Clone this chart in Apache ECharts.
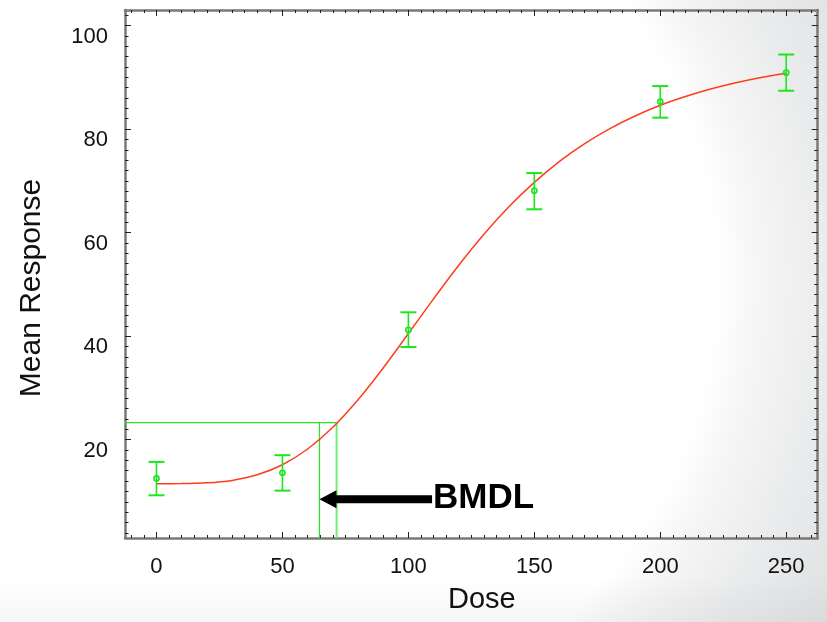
<!DOCTYPE html>
<html>
<head>
<meta charset="utf-8">
<style>
  html, body { margin: 0; padding: 0; }
  #chart { width: 827px; height: 622px; }
</style>
<script src="https://cdn.jsdelivr.net/npm/echarts@6/dist/echarts.min.js"></script>
</head>
<body>
<div id="chart"></div>
<script>
const doses = [0, 50, 100, 150, 200, 250];
const means = [12.5, 13.6, 41.2, 68.1, 85.3, 90.9];
const lowerBars = [9.25, 10.15, 37.9, 64.5, 82.2, 87.4];
const upperBars = [15.7, 17.0, 44.6, 71.5, 88.3, 94.4];

// ---- Fitted curve ----
const curveDose = [0, 10, 20, 30, 40, 50, 60, 70, 80, 90, 100, 110, 120, 130, 140, 150, 160, 170, 180, 190, 200, 210, 220, 230, 240, 250];
const curveResp = [11.5, 11.51, 11.65, 12.13, 13.21, 15.15, 18.19, 22.39, 27.7, 33.85, 40.5, 47.2, 53.7, 59.7, 65.05, 69.7, 73.77, 77.2, 80.1, 82.53, 84.6, 86.29, 87.74, 88.95, 89.97, 90.8];

// ---- Benchmark values ----
const bmrLevel = 23.3;
const bmdValue = 71.5;
const bmdlValue = 64.7;
const arrowTail = [109.4, 8.5];
const arrowTip = [64.7, 8.5];
const arrowText = 'BMDL';

// ---- Axis ranges and ticks ----
const xRange = [-12.5, 262.5];
const yRange = [1, 103];
const xMajorTicks = [0, 50, 100, 150, 200, 250];
const xMinorTicks = [-10, -5, 5, 10, 15, 20, 25, 30, 35, 40, 45, 55, 60, 65, 70, 75, 80, 85, 90, 95, 105, 110, 115, 120, 125, 130, 135, 140, 145, 155, 160, 165, 170, 175, 180, 185, 190, 195, 205, 210, 215, 220, 225, 230, 235, 240, 245, 255, 260];
const yMajorTicks = [20, 40, 60, 80, 100];
const yMinorTicks = [2, 4, 6, 8, 10, 12, 14, 16, 18, 22, 24, 26, 28, 30, 32, 34, 36, 38, 42, 44, 46, 48, 50, 52, 54, 56, 58, 62, 64, 66, 68, 70, 72, 74, 76, 78, 82, 84, 86, 88, 90, 92, 94, 96, 98, 102];

const GREEN = '#1ee61e';
const AXIS_GRAY = '#7a7a7a';
const TICK = '#222';
const FONT = '"Liberation Sans", Arial, sans-serif';
const GRID_RECT = { left: 125, top: 10, width: 692.7, height: 528, containLabel: false };

function axis(pos, range, gridIndex, showLine, ticks, tickLen, extra) {
  return Object.assign({
    type: 'value',
    gridIndex: gridIndex,
    position: pos,
    min: range[0],
    max: range[1],
    splitLine: { show: false },
    axisLine: { show: showLine, onZero: false, lineStyle: { color: AXIS_GRAY, width: 2.5 } },
    axisLabel: { show: false },
    axisTick: { show: true, inside: true, length: tickLen, customValues: ticks, lineStyle: { color: TICK, width: 1 } },
    silent: true
  }, extra || {});
}

const xAxes = [
  axis('bottom', xRange, 0, true, xMajorTicks, 6, {
    name: 'Dose',
    nameLocation: 'middle',
    nameGap: 47,
    nameTextStyle: { fontSize: 29, color: '#111', fontFamily: FONT, padding: [0, 0, 0, 21] },
    axisLabel: { show: true, customValues: xMajorTicks, fontSize: 22, color: '#111', fontFamily: FONT, margin: 18 }
  }),
  axis('top', xRange, 0, true, xMajorTicks, 6),
  axis('bottom', xRange, 1, false, xMinorTicks, 3),
  axis('top', xRange, 1, false, xMinorTicks, 3)
];

const yAxes = [
  axis('left', yRange, 0, true, yMajorTicks, 6, {
    name: 'Mean Response',
    nameLocation: 'middle',
    nameGap: 78,
    nameTextStyle: { fontSize: 30, color: '#111', fontFamily: FONT, padding: [0, 28, 0, 0] },
    axisLabel: { show: true, customValues: yMajorTicks, fontSize: 22, color: '#111', fontFamily: FONT, margin: 17, verticalAlign: 'top' }
  }),
  axis('right', yRange, 0, true, yMajorTicks, 6),
  axis('left', yRange, 1, false, yMinorTicks, 3.5),
  axis('right', yRange, 1, false, yMinorTicks, 3.5)
];

const errData = doses.map((d, i) => [d, means[i], lowerBars[i], upperBars[i]]);
const curveData = curveDose.map((d, i) => [d, curveResp[i]]);

const chart = echarts.init(document.getElementById('chart'), null, { renderer: 'canvas' });

chart.setOption({
  animation: false,
  backgroundColor: {
    type: 'radial', x: 260, y: 280, r: 660, global: true,
    colorStops: [
      { offset: 0, color: '#ffffff' },
      { offset: 0.69, color: '#ffffff' },
      { offset: 0.75, color: '#f6f6f6' },
      { offset: 0.87, color: '#e9eaeb' },
      { offset: 1, color: '#e0e1e2' }
    ]
  },
  graphic: [{
    type: 'rect', silent: true, z: -10,
    shape: { x: 0, y: 578, width: 827, height: 44 },
    style: {
      fill: {
        type: 'linear', x: 0, y: 0, x2: 0, y2: 1,
        colorStops: [
          { offset: 0, color: 'rgba(0,0,0,0)' },
          { offset: 0.5, color: 'rgba(0,0,0,0.02)' },
          { offset: 1, color: 'rgba(0,0,0,0.03)' }
        ]
      }
    }
  }],
  grid: [GRID_RECT, GRID_RECT],
  xAxis: xAxes,
  yAxis: yAxes,
  series: [
    {
      name: 'BMR level',
      type: 'line',
      data: [[xRange[0], bmrLevel], [bmdValue, bmrLevel]],
      showSymbol: false,
      lineStyle: { color: '#2ee02e', width: 1.3 },
      silent: true
    },
    {
      name: 'BMDL',
      type: 'line',
      data: [[bmdlValue, yRange[0]], [bmdlValue, bmrLevel]],
      showSymbol: false,
      lineStyle: { color: '#2ee02e', width: 1.3 },
      silent: true
    },
    {
      name: 'BMD',
      type: 'line',
      data: [[bmdValue, yRange[0]], [bmdValue, bmrLevel]],
      showSymbol: false,
      lineStyle: { color: '#6fee6f', width: 2 },
      silent: true
    },
    {
      name: 'Fit',
      type: 'line',
      data: curveData,
      smooth: 0.3,
      showSymbol: false,
      lineStyle: { color: '#ff3c1e', width: 1.5 },
      silent: true,
      z: 3
    },
    {
      name: 'Observed',
      type: 'custom',
      data: errData,
      encode: { x: 0, y: [1, 2, 3] },
      z: 4,
      renderItem: function (params, api) {
        const x = api.value(0);
        const pM = api.coord([x, api.value(1)]);
        const pL = api.coord([x, api.value(2)]);
        const pH = api.coord([x, api.value(3)]);
        const hw = 8;
        return {
          type: 'group',
          children: [
            { type: 'line', shape: { x1: pL[0], y1: pL[1], x2: pH[0], y2: pH[1] }, style: { stroke: GREEN, lineWidth: 1.6 } },
            { type: 'line', shape: { x1: pL[0] - hw, y1: pL[1], x2: pL[0] + hw, y2: pL[1] }, style: { stroke: GREEN, lineWidth: 2 } },
            { type: 'line', shape: { x1: pH[0] - hw, y1: pH[1], x2: pH[0] + hw, y2: pH[1] }, style: { stroke: GREEN, lineWidth: 2 } },
            { type: 'circle', shape: { cx: pM[0], cy: pM[1], r: 2.6 }, style: { fill: 'rgba(0,0,0,0)', stroke: GREEN, lineWidth: 1.6 } }
          ]
        };
      }
    },
    {
      name: 'Arrow',
      type: 'custom',
      data: [[arrowTail[0], arrowTail[1], arrowTip[0], arrowTip[1]]],
      encode: { x: [0, 2], y: [1, 3] },
      z: 5,
      renderItem: function (params, api) {
        const pT = api.coord([api.value(0), api.value(1)]);
        const pH = api.coord([api.value(2), api.value(3)]);
        const headLen = 17, headHalf = 9, shaftHalf = 4;
        return {
          type: 'group',
          children: [
            { type: 'rect', shape: { x: pH[0] + headLen - 1, y: pT[1] - shaftHalf, width: pT[0] - pH[0] - headLen + 1, height: shaftHalf * 2 }, style: { fill: '#000' } },
            { type: 'polygon', shape: { points: [[pH[0], pH[1]], [pH[0] + headLen, pH[1] - headHalf], [pH[0] + headLen, pH[1] + headHalf]] }, style: { fill: '#000' } },
            { type: 'text', x: pT[0] + 1, y: pT[1] - 1, style: { text: arrowText, fill: '#000', font: 'bold 35px "Liberation Sans", Arial, sans-serif', align: 'left', verticalAlign: 'middle' } }
          ]
        };
      }
    }
  ]
});
</script>
</body>
</html>
